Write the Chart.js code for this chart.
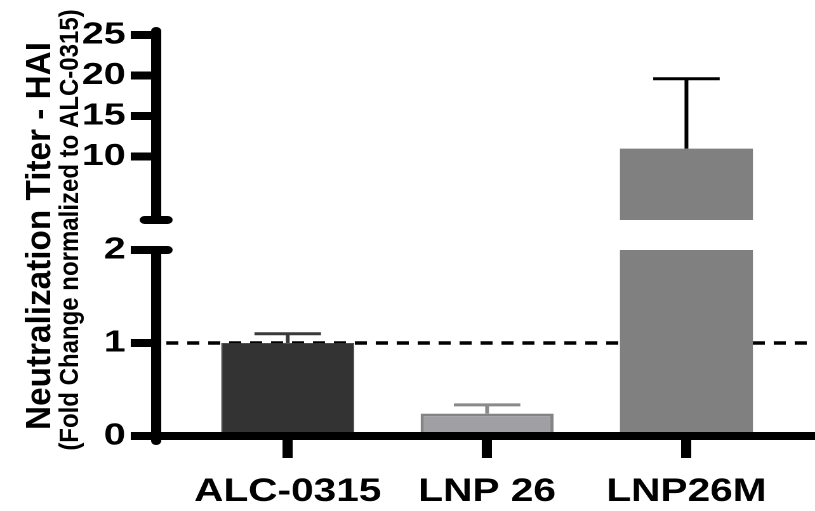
<!DOCTYPE html>
<html>
<head>
<meta charset="utf-8">
<script src="https://cdn.jsdelivr.net/npm/chart.js@4"></script>
<style>
  html, body { margin: 0; padding: 0; background: #fff; overflow: hidden; }
  /* the original figure is stretched sideways, so draw narrow and widen the box */
  #wrap { width: 642px; height: 511px; transform: scaleX(1.2695); transform-origin: 0 0; }
</style>
</head>
<body>
<div id="wrap"><canvas id="myChart" width="642" height="511"></canvas></div>
<script>
const categories = ['ALC-0315', 'LNP 26', 'LNP26M'];
const means = [1.0, 0.24, 11.0];
const errTops = [1.10, 0.335, 19.6];
const lowTicks = [0, 1, 2];
const highTicks = [10, 15, 20, 25];
const lowMax = 2;       // top of lower segment
const highBreak = 2.2;  // bottom of upper segment
const refLine = 1;      // normalized to ALC-0315

const barColors = ['#333333', '#a0a0a4', '#808080'];
const barBorders = ['#3a3a3a', '#848484', '#808080'];
const barBorderW = [0.8, 2.6, 0];
const errColors = ['#3a3a3a', '#8a8a8a', '#000000'];

const FONT = '"Liberation Sans", Arial, sans-serif';

const lowData = categories.map((c, i) => ({ x: i, y: Math.min(means[i], lowMax) }));
const highData = [];
means.forEach((v, i) => { if (v > lowMax) highData.push({ x: i, y: [highBreak, v] }); });

const pick = (arr) => (c) => arr[c.raw ? c.raw.x : 0];

const brokenAxis = {
    id: 'brokenAxis',
    beforeDatasetsDraw(chart) {
        const { ctx, chartArea } = chart;
        const y = chart.scales.yLow.getPixelForValue(refLine);
        ctx.save();
        ctx.strokeStyle = '#000';
        ctx.lineWidth = 3.5;
        ctx.setLineDash([9.5, 7]);
        ctx.beginPath();
        ctx.moveTo(chartArea.left + 8, y);
        ctx.lineTo(chartArea.right, y);
        ctx.stroke();
        ctx.restore();
    },
    afterDatasetsDraw(chart) {
        const { ctx } = chart;
        const xs = chart.scales.x;
        const meta = chart.getDatasetMeta(0);
        ctx.save();
        ctx.lineWidth = 3;
        errTops.forEach((top, i) => {
            const ys = top > lowMax ? chart.scales.yHigh : chart.scales.yLow;
            const x = xs.getPixelForValue(i);
            const half = meta.data[i].width / 4;
            const y0 = ys.getPixelForValue(means[i]);
            const y1 = ys.getPixelForValue(top);
            ctx.strokeStyle = errColors[i];
            ctx.beginPath();
            ctx.moveTo(x, y0);
            ctx.lineTo(x, y1);
            ctx.moveTo(x - half, y1);
            ctx.lineTo(x + half, y1);
            ctx.stroke();
        });
        ctx.restore();
    },
    afterDraw(chart) {
        const { ctx, chartArea } = chart;
        const yLow = chart.scales.yLow, yHigh = chart.scales.yHigh;
        const x = chartArea.left;
        ctx.save();
        ctx.strokeStyle = '#000';
        ctx.lineWidth = 8;
        ctx.lineCap = 'round';
        ctx.beginPath();
        ctx.moveTo(x, yLow.getPixelForValue(0) + 5);
        ctx.lineTo(x, yLow.getPixelForValue(lowMax));
        ctx.moveTo(x, yHigh.getPixelForValue(highBreak));
        ctx.lineTo(x, yHigh.getPixelForValue(highTicks[highTicks.length - 1]) - 4);
        // break marks
        [yLow.getPixelForValue(lowMax), yHigh.getPixelForValue(highBreak)].forEach(y => {
            ctx.moveTo(x - 9, y);
            ctx.lineTo(x + 9, y);
        });
        ctx.stroke();

        // y title, two lines
        ctx.fillStyle = '#000';
        ctx.textAlign = 'center';
        ctx.textBaseline = 'alphabetic';
        ctx.save();
        ctx.translate(39.4, 236);
        ctx.rotate(-Math.PI / 2);
        ctx.scale(1, 0.83);
        ctx.font = 'bold 33.3px ' + FONT;
        ctx.fillText('Neutralization Titer - HAI', 0, 0);
        ctx.restore();
        ctx.save();
        ctx.translate(61.5, 230);
        ctx.rotate(-Math.PI / 2);
        ctx.scale(1, 0.9);
        ctx.font = 'bold 24px ' + FONT;
        ctx.fillText('(Fold Change normalized to ALC-0315)', 0, 0);
        ctx.restore();
        ctx.restore();
    }
};

const yCommon = {
    type: 'linear',
    position: 'left',
    stack: 'y',
    border: { display: false },
    grid: { drawOnChartArea: false, drawTicks: true, tickLength: 20, lineWidth: 8, color: '#000' },
    ticks: { color: '#000', padding: 4, font: { family: FONT, size: 31, weight: 'bold' } },
    afterFit: s => { s.width = 123; }
};

new Chart(document.getElementById('myChart').getContext('2d'), {
    type: 'bar',
    data: {
        datasets: [{
            data: lowData,
            yAxisID: 'yLow',
            grouped: false,
            backgroundColor: pick(barColors),
            borderColor: pick(barBorders),
            borderWidth: pick(barBorderW),
            barPercentage: 0.667,
            categoryPercentage: 1
        }, {
            data: highData,
            yAxisID: 'yHigh',
            grouped: false,
            backgroundColor: pick(barColors),
            borderWidth: 0,
            barPercentage: 0.667,
            categoryPercentage: 1
        }]
    },
    options: {
        responsive: false,
        devicePixelRatio: 2,
        animation: false,
        layout: { padding: { top: 35, left: 0, right: 0, bottom: 0 } },
        plugins: { legend: { display: false }, tooltip: { enabled: false } },
        scales: {
            x: {
                type: 'linear',
                offset: false,
                min: -0.66,
                max: 2.645,
                afterBuildTicks: s => { s.ticks = categories.map((c, i) => ({ value: i })); },
                afterFit: s => { s.height = 75; },
                border: { display: true, width: 8, color: '#000' },
                grid: { offset: false, drawOnChartArea: false, drawTicks: true, tickLength: 22, lineWidth: 8, color: '#000' },
                ticks: {
                    color: '#000',
                    padding: 15,
                    autoSkip: false,
                    maxRotation: 0,
                    font: { family: FONT, size: 32, weight: 'bold' },
                    callback: v => categories[v]
                }
            },
            yHigh: Object.assign({}, yCommon, {
                min: -1.5,
                max: 25,
                weight: 1,
                stackWeight: 215,
                afterBuildTicks: s => { s.ticks = highTicks.map(v => ({ value: v })); }
            }),
            yLow: Object.assign({}, yCommon, {
                min: 0,
                max: lowMax,
                weight: 0,
                stackWeight: 186,
                afterBuildTicks: s => { s.ticks = lowTicks.map(v => ({ value: v })); }
            })
        }
    },
    plugins: [brokenAxis]
});
</script>
</body>
</html>
